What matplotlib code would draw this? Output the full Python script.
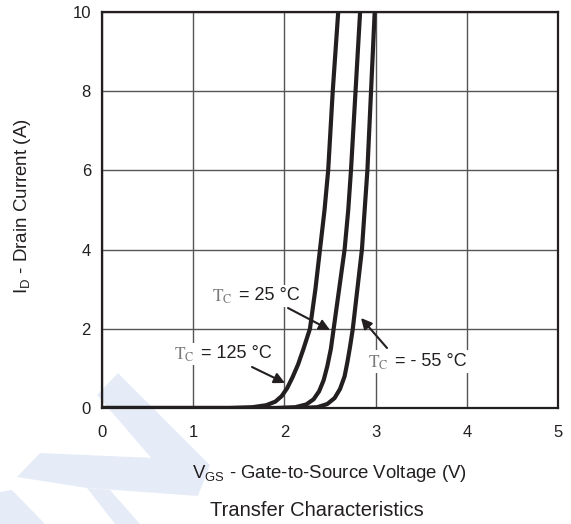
import matplotlib
matplotlib.use("Agg")
import matplotlib.pyplot as plt
from matplotlib.patches import Polygon, Rectangle

plt.rcParams['font.family'] = ['Liberation Sans', 'DejaVu Sans']
plt.rcParams['mathtext.fontset'] = 'custom'
plt.rcParams['mathtext.rm'] = 'Liberation Sans'
plt.rcParams['mathtext.it'] = 'Liberation Sans'
plt.rcParams['mathtext.bf'] = 'Liberation Sans'

# ---- data ----
vgs_125 = [0.0, 1.40, 1.65, 1.80, 1.90, 1.97, 2.03, 2.09, 2.15, 2.21, 2.28, 2.34, 2.39, 2.44, 2.48, 2.53, 2.59]
id_125  = [0.0, 0.00, 0.02, 0.07, 0.16, 0.30, 0.50, 0.78, 1.10, 1.50, 2.00, 3.00, 4.00, 5.00, 6.00, 8.00, 10.0]

vgs_25 = [0.0, 1.90, 2.12, 2.24, 2.32, 2.38, 2.43, 2.47, 2.51, 2.54, 2.60, 2.66, 2.70, 2.73, 2.78, 2.83]
id_25  = [0.0, 0.00, 0.02, 0.09, 0.22, 0.42, 0.70, 1.05, 1.50, 2.00, 3.00, 4.00, 5.00, 6.00, 8.00, 10.0]

vgs_m55 = [0.0, 2.15, 2.36, 2.47, 2.55, 2.61, 2.66, 2.69, 2.72, 2.75, 2.80, 2.85, 2.88, 2.91, 2.95, 2.99]
id_m55  = [0.0, 0.00, 0.02, 0.10, 0.25, 0.48, 0.80, 1.15, 1.55, 2.00, 3.00, 4.00, 5.00, 6.00, 8.00, 10.0]

x_ticks = [0, 1, 2, 3, 4, 5]
y_ticks = [0, 2, 4, 6, 8, 10]

labels = ['= 25 °C', '= 125 °C', '= - 55 °C']

W, H = 571, 524
fig = plt.figure(figsize=(W / 100, H / 100), dpi=100)

# faint watermark shapes (figure pixel coords)
def fp(pts):
    return [(x / W, 1 - y / H) for x, y in pts]

wm_color = '#e6ecf7'
for pts in [
    [(97, 395), (118, 373), (210, 465), (198, 496), (153, 460)],
    [(40, 453), (155, 458), (198, 496), (87, 488), (17, 477)],
    [(87, 488), (110, 490), (140, 524), (115, 524)],
    [(0, 492), (12, 490), (45, 524), (0, 524)],
]:
    fig.patches.append(Polygon(fp(pts), closed=True, transform=fig.transFigure,
                               facecolor=wm_color, edgecolor='none', zorder=-5))

ax = fig.add_axes([102 / W, 1 - 408 / H, (558 - 102) / W, (408 - 12) / H])
ax.patch.set_alpha(0)

dark = '#231f20'
for vx, vy in [(vgs_125, id_125), (vgs_25, id_25), (vgs_m55, id_m55)]:
    ax.plot(vx, vy, color=dark, lw=3.0, solid_joinstyle='round', solid_capstyle='butt', zorder=3)

ax.set_xlim(0, 5)
ax.set_ylim(0, 10)
ax.set_xticks(x_ticks)
ax.set_yticks(y_ticks)
ax.set_xticklabels([str(t) for t in x_ticks])
ax.set_yticklabels([str(t) for t in y_ticks])
ax.tick_params(axis='both', length=0, labelsize=12, colors=dark)
ax.tick_params(axis='x', pad=12)
ax.tick_params(axis='y', pad=8)
ax.grid(True, color='#555555', lw=1.0, zorder=1)
for s in ax.spines.values():
    s.set_linewidth(1.6)
    s.set_color(dark)
    s.set_zorder(4)

ax.set_xlabel(r'V$_{\mathrm{GS}}$ - Gate-to-Source Voltage (V)', fontsize=13.4, color=dark)
ax.xaxis.set_label_coords(0.5, -(463 - 408) / 396)
ax.set_ylabel(r'I$_{\mathrm{D}}$ - Drain Current (A)', fontsize=13.5, color=dark)
ax.yaxis.set_label_coords((33 - 102) / 456, (408 - 206) / 396)

fig.text(317 / W, 1 - 511 / H, 'Transfer Characteristics', fontsize=14.5, ha='center', va='center', color=dark)

# ---- annotations ----
def px(x, y):
    return ((x - 102) / 91.2, (408 - y) / 39.6)

gray = '#7a7a7a'

def label(tx, ty, rest, box):
    # white background box behind the label (pixel box x0, y0, x1, y1)
    x0, y0 = px(box[0], box[3])
    x1, y1 = px(box[2], box[1])
    ax.add_patch(Rectangle((x0, y0), x1 - x0, y1 - y0, facecolor='white',
                           edgecolor='none', zorder=2))
    ax.text(*px(tx, ty + 1), r'$\mathrm{T}_{\mathrm{C}}$', fontsize=12.5, math_fontfamily='stix',
            color=gray, ha='left', va='center', zorder=5)
    ax.text(*px(tx + 27, ty), rest, fontsize=13, color=dark,
            ha='left', va='center', zorder=5)

label(212, 296, labels[0], (207, 285, 304, 307))
label(174, 354, labels[1], (169, 343, 277, 365))
label(368, 362, labels[2], (363, 350, 473, 373))

arrow = dict(arrowstyle='-|>', color=dark, lw=1.5, mutation_scale=16, shrinkA=0, shrinkB=0)
ax.annotate('', xy=px(330, 330), xytext=px(288, 308), arrowprops=arrow, zorder=6)
ax.annotate('', xy=px(285, 383), xytext=px(252, 367), arrowprops=arrow, zorder=6)
ax.annotate('', xy=px(361, 318), xytext=px(387, 348), arrowprops=arrow, zorder=6)

fig.savefig('out.png', dpi=100)
